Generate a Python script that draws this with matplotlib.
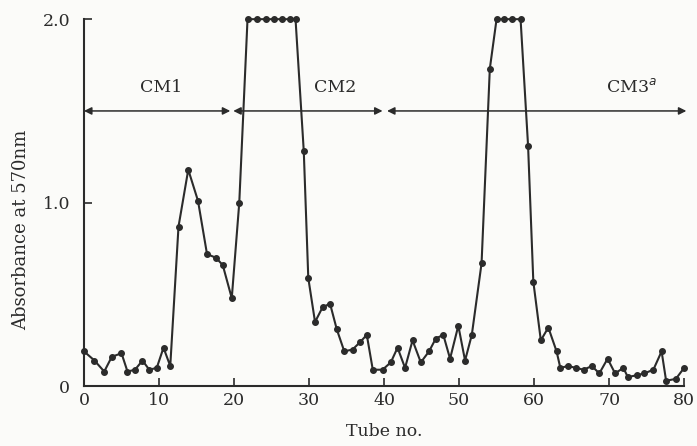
import matplotlib.pyplot as plt

# tube number / absorbance
tube = [0.0, 1.4, 2.7, 3.7, 5.0, 5.8, 6.8, 7.8, 8.7, 9.7,
        10.6, 11.5, 12.6, 13.9, 15.2, 16.4, 17.6, 18.5, 19.7, 20.7,
        21.8, 23.1, 24.3, 25.3, 26.4, 27.4, 28.2, 29.3, 29.9, 30.8,
        31.8, 32.8, 33.7, 34.7, 35.8, 36.8, 37.7, 38.5, 39.8, 40.9,
        41.8, 42.8, 43.8, 44.9, 46.0, 46.9, 47.9, 48.8, 49.9, 50.8,
        51.7, 53.0, 54.1, 55.0, 56.0, 57.1, 58.2, 59.2, 59.9, 60.9,
        61.9, 63.0, 63.5, 64.5, 65.6, 66.6, 67.7, 68.7, 69.8, 70.8,
        71.9, 72.5, 73.7, 74.7, 75.9, 77.0, 77.6, 78.9, 80.0]
absorb = [0.19, 0.14, 0.08, 0.16, 0.18, 0.08, 0.09, 0.14, 0.09, 0.10,
          0.21, 0.11, 0.87, 1.18, 1.01, 0.72, 0.70, 0.66, 0.48, 1.00,
          2.00, 2.00, 2.00, 2.00, 2.00, 2.00, 2.00, 1.28, 0.59, 0.35,
          0.43, 0.45, 0.31, 0.19, 0.20, 0.24, 0.28, 0.09, 0.09, 0.13,
          0.21, 0.10, 0.25, 0.13, 0.19, 0.26, 0.28, 0.15, 0.33, 0.14,
          0.28, 0.67, 1.73, 2.00, 2.00, 2.00, 2.00, 1.31, 0.57, 0.25,
          0.32, 0.19, 0.10, 0.11, 0.10, 0.09, 0.11, 0.07, 0.15, 0.07,
          0.10, 0.05, 0.06, 0.07, 0.09, 0.19, 0.03, 0.04, 0.10]

fractions = ['CM1', 'CM2', 'CM3$^{a}$']
frac_start = [0.0, 19.9, 40.4]
frac_end = [19.5, 39.8, 80.3]
label_x = [10.3, 33.5, 73.0]

ink = '#2b2b2b'
bg = '#fbfbf9'
plt.rcParams['font.family'] = ['DejaVu Serif']

fig = plt.figure(figsize=(6.97, 4.46), dpi=100, facecolor=bg)
ax = fig.add_axes([0.1205, 0.134, 0.861, 0.823])
ax.set_facecolor(bg)

ax.plot(tube, absorb, color=ink, lw=1.5, marker='o', ms=4.0,
        mfc=ink, mec=ink, clip_on=False, zorder=3)

for name, a, b, lx in zip(fractions, frac_start, frac_end, label_x):
    ax.annotate('', xy=(b, 1.5), xytext=(a, 1.5),
                arrowprops=dict(arrowstyle='<|-|>', color=ink, lw=1.1,
                                mutation_scale=11, shrinkA=0, shrinkB=0),
                annotation_clip=False)
    ax.text(lx, 1.58, name, ha='center', va='bottom', fontsize=12.5, color=ink)

ax.set_xlim(0, 80)
ax.set_ylim(0, 2.0)
ax.set_xticks(range(0, 81, 10))
ax.set_yticks([0, 1.0, 2.0])
ax.set_yticklabels(['0', '1.0', '2.0'])
ax.tick_params(direction='in', length=6, width=1.2, colors=ink,
               labelsize=12.5, pad=4)
ax.tick_params(axis='y', pad=10)
for side in ['top', 'right']:
    ax.spines[side].set_visible(False)
for side in ['left', 'bottom']:
    ax.spines[side].set_color(ink)
    ax.spines[side].set_linewidth(1.5)

ax.set_xlabel('Tube no.', fontsize=12.5, color=ink, labelpad=10)
ax.set_ylabel('Absorbance at 570nm', fontsize=13, color=ink)
ax.yaxis.set_label_coords(-0.09, 0.425)

fig.savefig('out.png', dpi=100, facecolor=bg)
